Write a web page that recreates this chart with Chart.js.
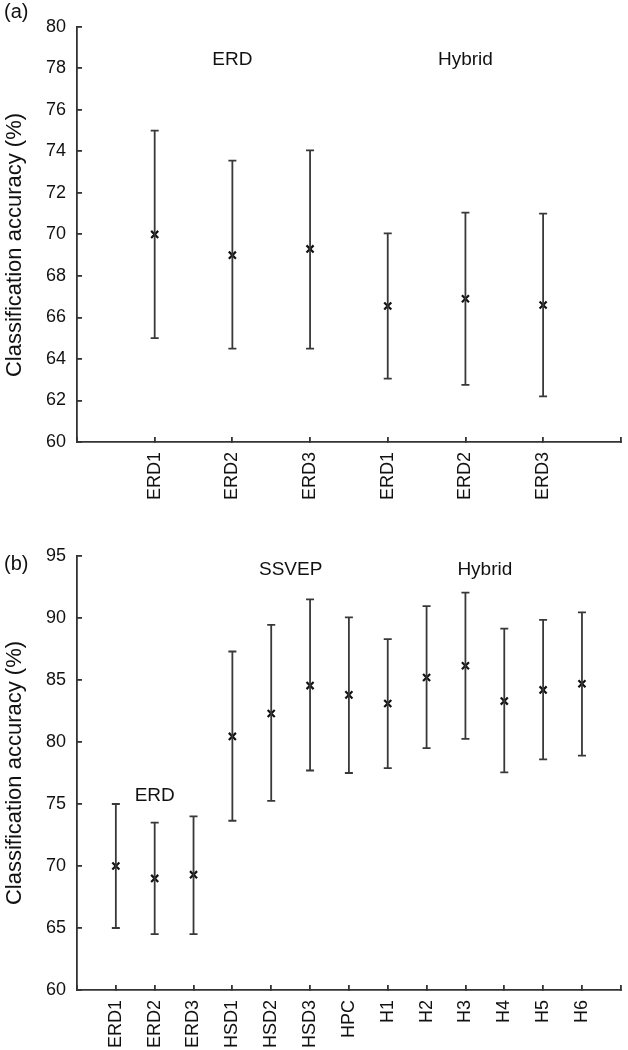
<!DOCTYPE html>
<html>
<head>
<meta charset="utf-8">
<script src="https://cdn.jsdelivr.net/npm/chart.js@4.4.0/dist/chart.umd.min.js"></script>
<style>
  body { margin: 0; background: #fff; font-family: "Liberation Sans", Arial, sans-serif; }
  #wrap { position: relative; width: 628px; height: 1050px; overflow: hidden; }
  canvas { position: absolute; left: 0; }
  .panel-tag { position: absolute; left: 4px; font-size: 20px; color: #111; }
  .y-title {
    position: absolute; font-size: 22px; color: #111; white-space: nowrap;
    transform: translate(-50%, -50%) rotate(-90deg);
  }
</style>
</head>
<body>
<div id="wrap">
  <canvas id="chartA" width="628" height="525" style="top:0"></canvas>
  <canvas id="chartB" width="628" height="525" style="top:525px"></canvas>
  <div class="panel-tag" style="top:0px">(a)</div>
  <div class="panel-tag" style="top:552px">(b)</div>
  <div class="y-title" style="left:14px; top:245px">Classification accuracy (%)</div>
  <div class="y-title" style="left:14px; top:773px">Classification accuracy (%)</div>
</div>
<script>
// panel (a)
const labelsA = ['ERD1', 'ERD2', 'ERD3', 'ERD1', 'ERD2', 'ERD3'];
const meanA = [70.0, 69.0, 69.3, 66.55, 66.9, 66.6];
const lowA = [65.0, 64.5, 64.5, 63.05, 62.75, 62.2];
const highA = [75.0, 73.55, 74.05, 70.05, 71.05, 71.0];
const groupNamesA = ['ERD', 'Hybrid'];
const groupXA = [2, 5];
const groupYA = [78.4, 78.4];

// panel (b)
const labelsB = ['ERD1', 'ERD2', 'ERD3', 'HSD1', 'HSD2', 'HSD3', 'HPC', 'H1', 'H2', 'H3', 'H4', 'H5', 'H6'];
const meanB = [70.0, 69.0, 69.3, 80.45, 82.3, 84.55, 83.8, 83.1, 85.2, 86.15, 83.3, 84.2, 84.7];
const lowB = [65.0, 64.5, 64.5, 73.65, 75.25, 77.7, 77.5, 77.9, 79.5, 80.25, 77.55, 78.6, 78.9];
const highB = [75.0, 73.5, 74.0, 87.3, 89.45, 91.5, 90.05, 88.3, 90.95, 92.05, 89.15, 89.85, 90.45];
const groupNamesB = ['ERD', 'SSVEP', 'Hybrid'];
const groupXB = [2, 5.5, 10.5];
const groupYB = [75.7, 93.9, 93.9];

const FONT = 'Liberation Sans';
const AXIS = '#333';
const BAR = '#383838';

// text labels above each group, placed in data units
const groupLabels = {
    id: 'groupLabels',
    afterDatasetsDraw(chart, args, opts) {
        const ctx = chart.ctx;
        const x = chart.scales.x, y = chart.scales.y;
        ctx.save();
        ctx.font = '19px "' + FONT + '"';
        ctx.fillStyle = '#111';
        ctx.textAlign = 'center';
        ctx.textBaseline = 'middle';
        opts.names.forEach((name, i) => {
            ctx.fillText(name, x.getPixelForValue(opts.xs[i]), y.getPixelForValue(opts.ys[i]));
        });
        ctx.restore();
    }
};

function errorData(low, high) {
    const pts = [];
    low.forEach((lo, i) => {
        pts.push({ x: i + 1, y: lo });
        pts.push({ x: i + 1, y: high[i] });
        pts.push({ x: i + 1.5, y: null });
    });
    return pts;
}

function makeChart(id, labels, mean, low, high, yMin, yMax, yStep, padTop, xHeight, names, xs, ys) {
    return new Chart(document.getElementById(id), {
        type: 'line',
        data: {
            datasets: [{
                data: errorData(low, high),
                borderColor: BAR,
                borderWidth: 1.8,
                spanGaps: false,
                tension: 0,
                pointStyle: 'line',
                pointRadius: 4,
                pointBorderColor: BAR,
                pointBorderWidth: 1.8
            }, {
                data: mean.map((v, i) => ({ x: i + 1, y: v })),
                showLine: false,
                pointStyle: 'crossRot',
                pointRadius: 5,
                pointBorderColor: '#111',
                pointBorderWidth: 2.2
            }]
        },
        options: {
            responsive: false,
            animation: false,
            events: [],
            layout: { padding: { top: padTop, right: 2, left: 0, bottom: 0 } },
            plugins: {
                legend: { display: false },
                tooltip: { enabled: false },
                groupLabels: { names: names, xs: xs, ys: ys }
            },
            scales: {
                x: {
                    type: 'linear',
                    min: 0,
                    max: labels.length + 1,
                    afterFit: s => { s.height = xHeight; s.paddingRight = 0; s.paddingLeft = 0; },
                    border: { color: AXIS, width: 1.8 },
                    grid: { drawOnChartArea: false, drawTicks: true, tickLength: -5, color: AXIS, lineWidth: 1.8 },
                    ticks: {
                        stepSize: 1,
                        autoSkip: false,
                        minRotation: 90,
                        maxRotation: 90,
                        padding: 15,
                        color: '#111',
                        font: { family: FONT, size: 18 },
                        callback: v => labels[v - 1] || ''
                    }
                },
                y: {
                    min: yMin,
                    max: yMax,
                    afterFit: s => { s.width = 77; },
                    border: { color: AXIS, width: 1.8 },
                    grid: { drawOnChartArea: false, drawTicks: true, tickLength: -5, color: AXIS, lineWidth: 1.8 },
                    ticks: {
                        stepSize: yStep,
                        padding: 16,
                        color: '#111',
                        font: { family: FONT, size: 18 }
                    }
                }
            }
        },
        plugins: [groupLabels]
    });
}

makeChart('chartA', labelsA, meanA, lowA, highA, 60, 80, 2, 11, 83, groupNamesA, groupXA, groupYA);
makeChart('chartB', labelsB, meanB, lowB, highB, 60, 95, 5, 31, 60, groupNamesB, groupXB, groupYB);
</script>
</body>
</html>
